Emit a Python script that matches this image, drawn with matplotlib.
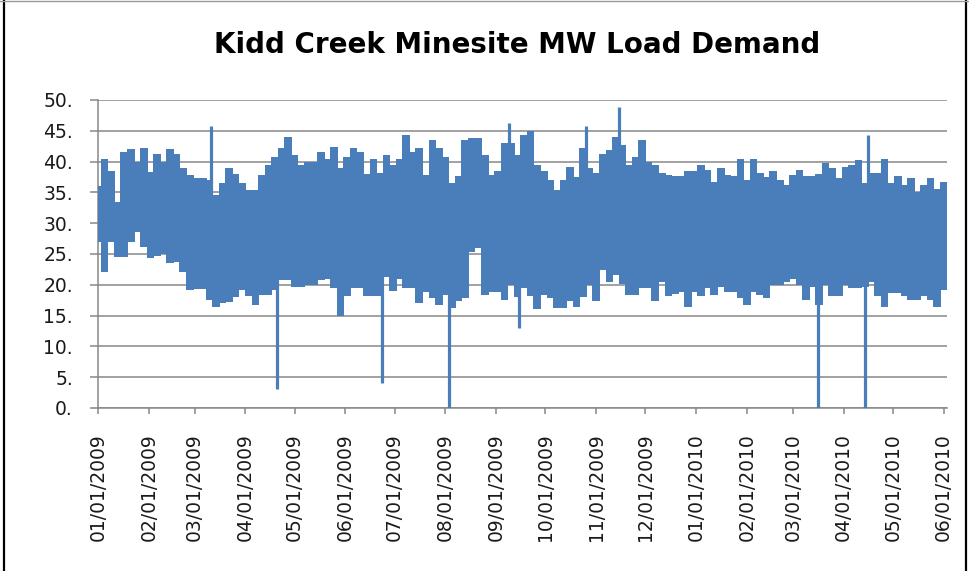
import numpy as np
import pandas as pd
import matplotlib
matplotlib.use("Agg")
import matplotlib.pyplot as plt
import matplotlib.dates as mdates
from matplotlib.lines import Line2D

# envelope of the hourly load, read every 4 days (MW)
start_date = "2009-01-01"
step_days = 4
upper_mw = [36, 40.5, 38.5, 33.5, 41.5, 42, 40, 42.2, 38.3, 41.2,
            40, 42, 41.2, 39, 37.8, 37.3, 37.3, 37, 34.6, 36.5,
            39, 38, 36.5, 35.4, 35.4, 37.8, 39.4, 40.8, 42.2, 44,
            41.1, 39.4, 40, 40, 41.5, 40.5, 42.4, 38.9, 40.8, 42.2,
            41.6, 38, 40.5, 38.1, 41.1, 39.4, 40.5, 44.3, 41.6, 42.2,
            37.8, 43.5, 42.2, 40.8, 36.5, 37.6, 43.5, 43.8, 43.8, 41.1,
            37.8, 38.5, 43, 43, 41.1, 44.3, 44.9, 39.4, 38.5, 37,
            35.4, 37, 39.2, 37.5, 42.2, 39, 38.1, 41.3, 41.9, 44,
            42.7, 39.5, 40.8, 43.5, 40, 39.4, 38.1, 37.8, 37.6, 37.6,
            38.4, 38.4, 39.4, 38.6, 36.7, 38.9, 37.8, 37.6, 40.5, 37,
            40.5, 38.1, 37.5, 38.4, 37, 36.2, 37.8, 38.6, 37.6, 37.6,
            38, 39.7, 38.9, 37.3, 39.2, 39.4, 40.3, 36.5, 38.1, 38.1,
            40.5, 36.5, 37.6, 36.2, 37.3, 35, 36.2, 37.3, 35.5, 36.7]
lower_mw = [27, 22, 27, 24.5, 24.5, 27, 28.5, 26.2, 24.4, 24.6,
            25, 23.5, 23.7, 22, 19.2, 19.3, 19.3, 17.5, 16.4, 17,
            17.2, 18, 19.2, 18.1, 16.7, 18.3, 18.3, 19.2, 20.8, 20.8,
            19.7, 19.7, 20, 20, 20.8, 21, 19.4, 15, 18.1, 19.4,
            19.4, 18.1, 18.1, 18.1, 21.3, 19, 21, 19.4, 19.4, 17,
            18.9, 17.8, 16.7, 18.3, 16.2, 17.3, 17.8, 25.4, 26, 18.3,
            18.9, 18.9, 17.5, 20, 18, 19.4, 18.1, 16, 18.3, 17.8,
            16.2, 16.2, 17.3, 16.4, 18, 20, 17.3, 22.4, 20.5, 21.6,
            20.2, 18.3, 18.3, 19.4, 19.4, 17.3, 20.5, 18.1, 18.5, 18.9,
            16.4, 18.9, 18.1, 19.5, 18.3, 19.7, 18.9, 18.9, 17.8, 16.7,
            18.9, 18.3, 17.8, 20, 20, 20.5, 21, 20, 17.5, 19.7,
            16.7, 20, 18.1, 18.1, 20, 19.4, 19.4, 19.7, 20.5, 18.1,
            16.4, 18.6, 18.6, 18.1, 17.5, 17.5, 18.1, 17.5, 16.4, 19.2]

# single hours that stick out of the band
spike_dates = ["2009-03-11", "2009-04-20", "2009-06-23", "2009-08-03", "2009-09-09",
               "2009-09-15", "2009-10-26", "2009-11-15", "2010-03-16", "2010-04-14",
               "2010-04-16"]
spike_mw = [45.7, 3, 4, 0, 46.2, 13, 45.7, 48.8, 0, 0, 44.3]

month_ticks = pd.date_range("2009-01-01", "2010-06-01", freq="MS")

blue = "#4a7ebb"
grid_col = "#878787"

dates = pd.date_range(start_date, periods=len(upper_mw), freq=f"{step_days}D")
spikes = pd.to_datetime(spike_dates)
band = np.array(upper_mw) - np.array(lower_mw)

fig = plt.figure(figsize=(9.69, 5.71), dpi=100)
ax = fig.add_axes([0.1011, 0.2855, 0.8762, 0.5394])

ax.bar(dates, band, bottom=lower_mw, width=step_days * 1.15, color=blue,
       lw=0, antialiased=False, zorder=3)
ax.vlines(spikes, 28, spike_mw, color=blue, lw=2.3, zorder=3)

ax.set_ylim(0, 50)
ax.set_xlim(pd.Timestamp("2009-01-01"), pd.Timestamp("2010-06-03"))
ax.set_yticks(np.arange(0, 51, 5))
ax.set_yticklabels([f"{v}." for v in range(0, 51, 5)])
ax.set_xticks(month_ticks)
ax.xaxis.set_major_formatter(mdates.DateFormatter("%m/%d/%Y"))

ax.grid(axis="y", color=grid_col, lw=1.1, zorder=0)
for side in ["top", "right"]:
    ax.spines[side].set_visible(False)
for side in ["left", "bottom"]:
    ax.spines[side].set_color(grid_col)
    ax.spines[side].set_linewidth(1.1)

ax.tick_params(axis="y", length=6, width=1.1, color=grid_col, pad=12,
               labelsize=13.5, labelcolor="#1a1a1a")
ax.tick_params(axis="x", length=4, width=1.1, color=grid_col, pad=14,
               labelsize=13.5, labelcolor="#1a1a1a", labelrotation=90)
for lab in ax.get_xticklabels():
    lab.set_va("top")
    lab.set_ha("center")

fig.text(0.534, 0.921, "Kidd Creek Minesite MW Load Demand", ha="center", va="center",
         fontsize=20, fontweight="bold")

# frame of the pasted chart
fig.add_artist(Line2D([4 / 969, 4 / 969], [0, 1], transform=fig.transFigure, color="black", lw=1.6))
fig.add_artist(Line2D([966 / 969, 966 / 969], [0, 1], transform=fig.transFigure, color="black", lw=1.6))
fig.add_artist(Line2D([0, 1], [570 / 571, 570 / 571], transform=fig.transFigure, color="#999999", lw=1))

fig.savefig("out.png", dpi=100)
